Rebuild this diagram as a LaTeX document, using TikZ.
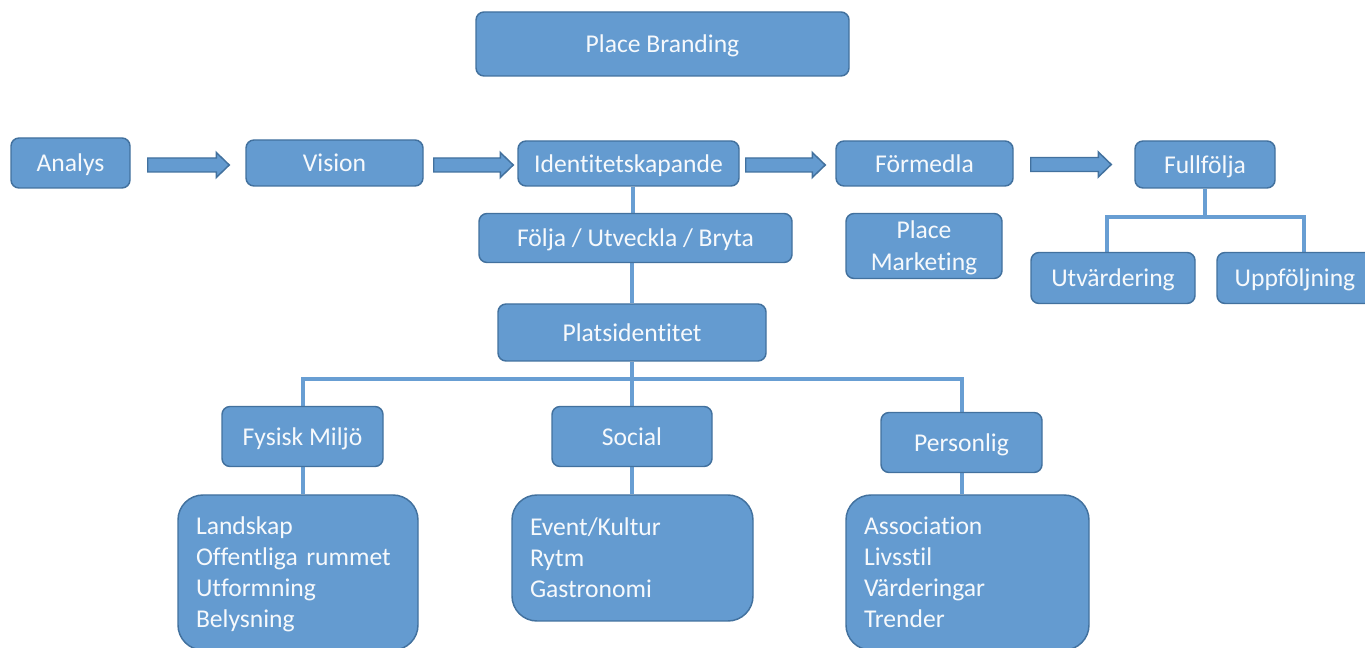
\documentclass[tikz,border=0pt]{standalone}
\usepackage{fontspec}
\setmainfont{Carlito}[Ligatures=NoCommon]
\usetikzlibrary{calc,backgrounds}
\definecolor{boxfill}{RGB}{100,155,208}
\definecolor{boxline}{RGB}{66,113,158}
\definecolor{linkblue}{RGB}{104,158,211}
\definecolor{boxtext}{RGB}{246,249,252}
\tikzset{
  box/.style={draw=boxline, line width=1.1pt, fill=boxfill, rounded corners=6pt,
    text=boxtext, inner sep=0pt, align=center,
    text height=18pt, text depth=4.5pt,
    font=\fontsize{19.2}{24}\selectfont},
  wh/.style 2 args={minimum width=#1*0.75pt, minimum height=#2*0.75pt},
  listbox/.style={box, rounded corners=18.75pt, align=left, inner xsep=13.5pt,
    font=\fontsize{19.2}{23.25}\selectfont},
  conn/.style={draw=linkblue, line width=3pt},
  blockarrow/.style={fill=boxfill, draw=boxline, line width=1.1pt, line join=miter,
    to path={let \p1=(\tikztostart), \p2=(\tikztotarget) in
      (\x1,\y1+5.25pt) -- (\x2-9.75pt,\y1+5.25pt) -- (\x2-9.75pt,\y1+9.4pt)
      -- (\x2,\y1) -- (\x2-9.75pt,\y1-9.4pt) -- (\x2-9.75pt,\y1-5.25pt)
      -- (\x1,\y1-5.25pt) -- cycle}}
}
\begin{document}
\begin{tikzpicture}[x=0.75pt, y=-0.75pt]
  \useasboundingbox (0,0) rectangle (1365,648);
  \clip (0,0) rectangle (1365,648);

  % title
  \node[box, wh={373}{64}] (brand) at (662.5,44) {Place Branding};

  % process row
  \node[box, wh={119}{50}] (analys)   at (70.5,163)   {Analys};
  \node[box, wh={177}{46}] (vision)   at (334.5,163)  {Vision};
  \node[box, wh={221}{45}] (ident)    at (628.5,163.5) {Identitetskapande};
  \node[box, wh={177}{45}] (formedla) at (924.5,163.5) {Förmedla};
  \node[box, wh={140}{47}] (full)     at (1205,164.5) {Fullfölja};

  % second level
  \node[box, wh={313}{49}] (folja) at (635.5,238)   {Följa / Utveckla / Bryta};
  \node[box, wh={156}{65}, text height=42pt] (pmkt) at (924,246) {Place\\Marketing};
  \node[box, wh={164}{51}] (utv)   at (1113,278)    {Utvärdering};
  \node[box, wh={156}{51}] (uppf)  at (1295,278)    {Uppföljning};
  \node[box, wh={268}{57}] (plats) at (632,332.5)   {Platsidentitet};

  % identity dimensions
  \node[box, wh={161}{60}] (fysisk)    at (302.5,436.5) {Fysisk Miljö};
  \node[box, wh={160}{60}] (social)    at (632,436.5)   {Social};
  \node[box, wh={161}{60}] (personlig) at (961.5,442.5) {Personlig};

  % contents of each dimension
  \node[listbox, wh={240}{155}, text width=153pt, text depth=74.25pt] (fyslist)
    at (298,572.5) {Landskap\\Offentliga rummet\\Utformning\\Belysning};
  \node[listbox, wh={241}{126}, text width=153.75pt, text depth=51pt] (soclist)
    at (632.5,558) {Event/Kultur\\Rytm\\Gastronomi};
  \node[listbox, wh={243}{155}, text width=155.25pt, text depth=74.25pt] (perlist)
    at (967.5,572.5) {Association\\Livsstil\\Värderingar\\Trender};

  % block arrows along the process row
  \coordinate (a1s) at ($(analys.east)+(17,2)$);
  \coordinate (a1e) at ($(vision.west)+(-16,2)$);
  \coordinate (a2s) at ($(vision.east)+(10,2)$);
  \coordinate (a2e) at ($(ident.west)+(-4,1.5)$);
  \coordinate (a3s) at ($(ident.east)+(6,1.5)$);
  \coordinate (a3e) at ($(formedla.west)+(-10,1.5)$);
  \coordinate (a4s) at ($(formedla.east)+(17,1)$);
  \coordinate (a4e) at ($(full.west)+(-23,0.5)$);
  \path[blockarrow] (a1s) to (a1e);
  \path[blockarrow] (a2s) to (a2e);
  \path[blockarrow] (a3s) to (a3e);
  \path[blockarrow] (a4s) to (a4e);

  % tree connectors
  \begin{scope}[on background layer]
    \coordinate (ic) at ($(ident.south)+(4.5,0)$);
    \draw[conn] (ic) -- (ic |- folja.north);
    \draw[conn] (folja.south -| plats.north) -- (plats.north);

    \coordinate (bus) at (632,379);
    \draw[conn] (plats.south) -- (social.north);
    \draw[conn] (fysisk.north) |- (bus) -| (personlig.north);
    \draw[conn] (fysisk.south) -- (fysisk.south |- fyslist.north);
    \draw[conn] (social.south) -- (social.south |- soclist.north);
    \draw[conn] (personlig.south) -- (personlig.south |- perlist.north);

    \coordinate (fbus) at (1205,217);
    \coordinate (utvtop) at ($(utv.north)+(-6,0)$);
    \coordinate (uppftop) at ($(uppf.north)+(9,0)$);
    \draw[conn] (full.south) -- (fbus);
    \draw[conn] (utvtop) |- (fbus) -| (uppftop);
  \end{scope}
\end{tikzpicture}
\end{document}
